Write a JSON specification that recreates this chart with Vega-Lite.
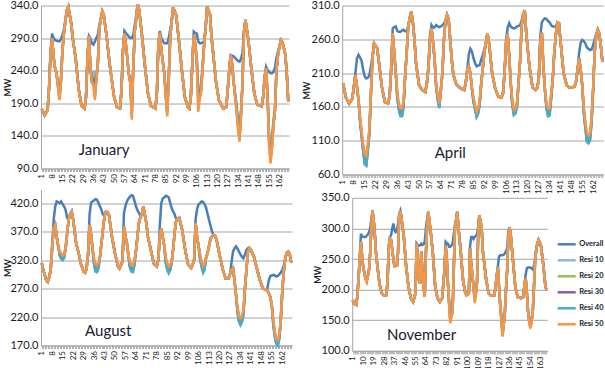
{
"$schema":"https://vega.github.io/schema/vega-lite/v6.json",
"background":"white",
"padding":{"left":3,"top":-1.5,"right":0,"bottom":0},
"autosize":{"type":"pad"},
"config":{
 "view":{"stroke":null},
 "font":"Lato",
 "axis":{"labelFont":"Lato","titleFont":"Lato","labelColor":"#1a1a1a","titleColor":"#1a1a1a","domainColor":"#a6a6a6","gridColor":"#a6a6a6","tickColor":"#b0b0b0","labelOverlap":false}
},
"datasets":{
"lab":[
{"p":"J","h":26,"v":111,"t":"January"},
{"p":"A","h":60,"v":84,"t":"April"},
{"p":"G","h":30,"v":187,"t":"August"},
{"p":"N","h":30.5,"v":117,"t":"November"}
],
"d":[
{"p":"J","h":1,"o":181,"a":181,"b":181,"c":181,"d":181,"e":181},
{"p":"J","h":3,"o":172,"a":172,"b":172,"c":172,"d":172,"e":172},
{"p":"J","h":5,"o":180,"a":180,"b":180,"c":180,"d":180,"e":180},
{"p":"J","h":6,"o":215,"a":215,"b":215,"c":215,"d":215,"e":215},
{"p":"J","h":7,"o":268,"a":268,"b":268,"c":268,"d":268,"e":268},
{"p":"J","h":8,"o":297,"a":290,"b":290,"c":290,"d":290,"e":290},
{"p":"J","h":9,"o":290,"a":262,"b":262,"c":262,"d":262,"e":262},
{"p":"J","h":10,"o":287,"a":244,"b":244,"c":244,"d":244,"e":244},
{"p":"J","h":11,"o":286,"a":236,"b":236,"c":236,"d":236,"e":236},
{"p":"J","h":13,"o":285,"a":205,"b":202,"c":199,"d":197,"e":195},
{"p":"J","h":14,"o":288,"a":228,"b":226,"c":224,"d":222,"e":220},
{"p":"J","h":15,"o":295,"a":270,"b":270,"c":270,"d":270,"e":270},
{"p":"J","h":16,"o":303,"a":297,"b":297,"c":297,"d":297,"e":297},
{"p":"J","h":18,"o":333,"a":333,"b":333,"c":333,"d":333,"e":333},
{"p":"J","h":19,"o":338,"a":338,"b":338,"c":338,"d":338,"e":338},
{"p":"J","h":21,"o":312,"a":312,"b":312,"c":312,"d":312,"e":312},
{"p":"J","h":22,"o":290,"a":290,"b":290,"c":290,"d":290,"e":290},
{"p":"J","h":24,"o":259,"a":259,"b":259,"c":259,"d":259,"e":259},
{"p":"J","h":26,"o":212,"a":212,"b":212,"c":212,"d":212,"e":212},
{"p":"J","h":28,"o":186,"a":186,"b":186,"c":186,"d":186,"e":186},
{"p":"J","h":30,"o":182,"a":182,"b":182,"c":182,"d":182,"e":182},
{"p":"J","h":31,"o":200,"a":200,"b":200,"c":200,"d":200,"e":200},
{"p":"J","h":32,"o":260,"a":260,"b":260,"c":260,"d":260,"e":260},
{"p":"J","h":33,"o":293,"a":293,"b":293,"c":293,"d":293,"e":293},
{"p":"J","h":34,"o":289,"a":244,"b":244,"c":244,"d":244,"e":244},
{"p":"J","h":35,"o":282,"a":223,"b":223,"c":223,"d":223,"e":223},
{"p":"J","h":36,"o":280,"a":240,"b":232,"c":226,"d":221,"e":218},
{"p":"J","h":37,"o":285,"a":215,"b":208,"c":203,"d":199,"e":195},
{"p":"J","h":38,"o":290,"a":235,"b":232,"c":229,"d":227,"e":225},
{"p":"J","h":39,"o":295,"a":250,"b":250,"c":250,"d":250,"e":250},
{"p":"J","h":40,"o":310,"a":305,"b":305,"c":305,"d":305,"e":305},
{"p":"J","h":42,"o":331,"a":331,"b":331,"c":331,"d":331,"e":331},
{"p":"J","h":43,"o":326,"a":326,"b":326,"c":326,"d":326,"e":326},
{"p":"J","h":45,"o":292,"a":292,"b":292,"c":292,"d":292,"e":292},
{"p":"J","h":47,"o":250,"a":250,"b":250,"c":250,"d":250,"e":250},
{"p":"J","h":50,"o":200,"a":200,"b":200,"c":200,"d":200,"e":200},
{"p":"J","h":52,"o":184,"a":184,"b":184,"c":184,"d":184,"e":184},
{"p":"J","h":54,"o":182,"a":182,"b":182,"c":182,"d":182,"e":182},
{"p":"J","h":55,"o":208,"a":208,"b":208,"c":208,"d":208,"e":208},
{"p":"J","h":56,"o":270,"a":270,"b":270,"c":270,"d":270,"e":270},
{"p":"J","h":57,"o":301,"a":297,"b":297,"c":297,"d":297,"e":297},
{"p":"J","h":58,"o":298,"a":280,"b":280,"c":280,"d":280,"e":280},
{"p":"J","h":59,"o":295,"a":259,"b":259,"c":259,"d":259,"e":259},
{"p":"J","h":60,"o":292,"a":235,"b":235,"c":235,"d":235,"e":235},
{"p":"J","h":61,"o":290,"a":226,"b":224,"c":222,"d":221,"e":220},
{"p":"J","h":62,"o":290,"a":185,"b":180,"c":175,"d":170,"e":165},
{"p":"J","h":63,"o":295,"a":244,"b":244,"c":244,"d":244,"e":244},
{"p":"J","h":64,"o":310,"a":300,"b":300,"c":300,"d":300,"e":300},
{"p":"J","h":65,"o":325,"a":320,"b":320,"c":320,"d":320,"e":320},
{"p":"J","h":66,"o":342,"a":342,"b":342,"c":342,"d":342,"e":342},
{"p":"J","h":67,"o":333,"a":333,"b":333,"c":333,"d":333,"e":333},
{"p":"J","h":69,"o":292,"a":292,"b":292,"c":292,"d":292,"e":292},
{"p":"J","h":71,"o":245,"a":245,"b":245,"c":245,"d":245,"e":245},
{"p":"J","h":73,"o":205,"a":205,"b":205,"c":205,"d":205,"e":205},
{"p":"J","h":75,"o":186,"a":186,"b":186,"c":186,"d":186,"e":186},
{"p":"J","h":78,"o":182,"a":182,"b":182,"c":182,"d":182,"e":182},
{"p":"J","h":79,"o":205,"a":205,"b":205,"c":205,"d":205,"e":205},
{"p":"J","h":80,"o":280,"a":280,"b":280,"c":280,"d":280,"e":280},
{"p":"J","h":81,"o":301,"a":298,"b":298,"c":298,"d":298,"e":298},
{"p":"J","h":82,"o":290,"a":272,"b":272,"c":272,"d":272,"e":272},
{"p":"J","h":84,"o":282,"a":236,"b":236,"c":236,"d":236,"e":236},
{"p":"J","h":85,"o":282,"a":210,"b":207,"c":204,"d":202,"e":200},
{"p":"J","h":86,"o":282,"a":190,"b":184,"c":178,"d":174,"e":170},
{"p":"J","h":87,"o":290,"a":228,"b":226,"c":225,"d":224,"e":223},
{"p":"J","h":88,"o":303,"a":290,"b":290,"c":290,"d":290,"e":290},
{"p":"J","h":89,"o":315,"a":315,"b":315,"c":315,"d":315,"e":315},
{"p":"J","h":90,"o":337,"a":337,"b":337,"c":337,"d":337,"e":337},
{"p":"J","h":92,"o":326,"a":326,"b":326,"c":326,"d":326,"e":326},
{"p":"J","h":94,"o":285,"a":285,"b":285,"c":285,"d":285,"e":285},
{"p":"J","h":96,"o":239,"a":239,"b":239,"c":239,"d":239,"e":239},
{"p":"J","h":98,"o":199,"a":199,"b":199,"c":199,"d":199,"e":199},
{"p":"J","h":100,"o":184,"a":184,"b":184,"c":184,"d":184,"e":184},
{"p":"J","h":101,"o":182,"a":182,"b":182,"c":182,"d":182,"e":182},
{"p":"J","h":102,"o":200,"a":200,"b":200,"c":200,"d":200,"e":200},
{"p":"J","h":103,"o":250,"a":250,"b":250,"c":250,"d":250,"e":250},
{"p":"J","h":104,"o":300,"a":295,"b":295,"c":295,"d":295,"e":295},
{"p":"J","h":105,"o":298,"a":280,"b":280,"c":280,"d":280,"e":280},
{"p":"J","h":106,"o":297,"a":262,"b":259,"c":257,"d":255,"e":254},
{"p":"J","h":107,"o":285,"a":216,"b":210,"c":203,"d":193,"e":177},
{"p":"J","h":108,"o":282,"a":215,"b":210,"c":205,"d":200,"e":195},
{"p":"J","h":109,"o":282,"a":220,"b":216,"c":213,"d":210,"e":208},
{"p":"J","h":111,"o":285,"a":280,"b":280,"c":280,"d":280,"e":280},
{"p":"J","h":112,"o":305,"a":305,"b":305,"c":305,"d":305,"e":305},
{"p":"J","h":113,"o":338,"a":338,"b":338,"c":338,"d":338,"e":338},
{"p":"J","h":115,"o":326,"a":326,"b":326,"c":326,"d":326,"e":326},
{"p":"J","h":116,"o":292,"a":292,"b":292,"c":292,"d":292,"e":292},
{"p":"J","h":119,"o":224,"a":224,"b":224,"c":224,"d":224,"e":224},
{"p":"J","h":121,"o":195,"a":195,"b":195,"c":195,"d":195,"e":195},
{"p":"J","h":124,"o":182,"a":182,"b":182,"c":182,"d":182,"e":182},
{"p":"J","h":126,"o":184,"a":184,"b":184,"c":184,"d":184,"e":184},
{"p":"J","h":127,"o":210,"a":210,"b":210,"c":210,"d":210,"e":210},
{"p":"J","h":128,"o":240,"a":240,"b":240,"c":240,"d":240,"e":240},
{"p":"J","h":129,"o":264,"a":264,"b":264,"c":264,"d":264,"e":264},
{"p":"J","h":130,"o":263,"a":250,"b":250,"c":250,"d":250,"e":250},
{"p":"J","h":131,"o":262,"a":223,"b":223,"c":223,"d":223,"e":223},
{"p":"J","h":133,"o":257,"a":188,"b":185,"c":182,"d":179,"e":177},
{"p":"J","h":134,"o":255,"a":165,"b":160,"c":156,"d":153,"e":150},
{"p":"J","h":135,"o":254,"a":150,"b":145,"c":140,"d":135,"e":131},
{"p":"J","h":136,"o":258,"a":180,"b":177,"c":174,"d":172,"e":170},
{"p":"J","h":137,"o":268,"a":220,"b":220,"c":220,"d":220,"e":220},
{"p":"J","h":138,"o":300,"a":300,"b":300,"c":300,"d":300,"e":300},
{"p":"J","h":139,"o":318,"a":318,"b":318,"c":318,"d":318,"e":318},
{"p":"J","h":141,"o":287,"a":287,"b":287,"c":287,"d":287,"e":287},
{"p":"J","h":143,"o":243,"a":243,"b":243,"c":243,"d":243,"e":243},
{"p":"J","h":145,"o":205,"a":205,"b":205,"c":205,"d":205,"e":205},
{"p":"J","h":147,"o":188,"a":188,"b":188,"c":188,"d":188,"e":188},
{"p":"J","h":150,"o":185,"a":185,"b":185,"c":185,"d":185,"e":185},
{"p":"J","h":151,"o":200,"a":200,"b":200,"c":200,"d":200,"e":200},
{"p":"J","h":152,"o":230,"a":230,"b":230,"c":230,"d":230,"e":230},
{"p":"J","h":153,"o":246,"a":244,"b":244,"c":244,"d":244,"e":244},
{"p":"J","h":154,"o":241,"a":200,"b":200,"c":200,"d":200,"e":200},
{"p":"J","h":155,"o":238,"a":145,"b":140,"c":134,"d":129,"e":125},
{"p":"J","h":156,"o":236,"a":130,"b":122,"c":112,"d":105,"e":98},
{"p":"J","h":157,"o":236,"a":140,"b":135,"c":128,"d":123,"e":120},
{"p":"J","h":158,"o":238,"a":165,"b":162,"c":159,"d":157,"e":155},
{"p":"J","h":159,"o":245,"a":180,"b":180,"c":180,"d":180,"e":180},
{"p":"J","h":160,"o":260,"a":240,"b":240,"c":240,"d":240,"e":240},
{"p":"J","h":161,"o":269,"a":264,"b":264,"c":264,"d":264,"e":264},
{"p":"J","h":163,"o":287,"a":287,"b":287,"c":287,"d":287,"e":287},
{"p":"J","h":164,"o":284,"a":284,"b":284,"c":284,"d":284,"e":284},
{"p":"J","h":166,"o":265,"a":265,"b":265,"c":265,"d":265,"e":265},
{"p":"J","h":167,"o":235,"a":235,"b":235,"c":235,"d":235,"e":235},
{"p":"J","h":168,"o":193,"a":193,"b":193,"c":193,"d":193,"e":193},

{"p":"A","h":1,"o":195,"a":195,"b":195,"c":195,"d":195,"e":195},
{"p":"A","h":3,"o":173,"a":173,"b":173,"c":173,"d":173,"e":173},
{"p":"A","h":5,"o":165,"a":165,"b":165,"c":165,"d":165,"e":165},
{"p":"A","h":7,"o":172,"a":172,"b":172,"c":172,"d":172,"e":172},
{"p":"A","h":8,"o":190,"a":190,"b":190,"c":190,"d":190,"e":190},
{"p":"A","h":9,"o":210,"a":207,"b":207,"c":207,"d":207,"e":207},
{"p":"A","h":10,"o":232,"a":190,"b":190,"c":190,"d":190,"e":190},
{"p":"A","h":11,"o":237,"a":170,"b":170,"c":170,"d":170,"e":170},
{"p":"A","h":12,"o":233,"a":143,"b":141,"c":139,"d":138,"e":145},
{"p":"A","h":13,"o":228,"a":122,"b":120,"c":117,"d":116,"e":125},
{"p":"A","h":14,"o":215,"a":101,"b":99,"c":96,"d":95,"e":105},
{"p":"A","h":15,"o":205,"a":84,"b":80,"c":76,"d":75,"e":91},
{"p":"A","h":16,"o":202,"a":82,"b":78,"c":74,"d":73,"e":88},
{"p":"A","h":17,"o":203,"a":102,"b":100,"c":96,"d":95,"e":105},
{"p":"A","h":18,"o":207,"a":126,"b":124,"c":122,"d":121,"e":128},
{"p":"A","h":19,"o":220,"a":180,"b":180,"c":180,"d":180,"e":180},
{"p":"A","h":20,"o":235,"a":232,"b":232,"c":232,"d":232,"e":232},
{"p":"A","h":21,"o":254,"a":254,"b":254,"c":254,"d":254,"e":254},
{"p":"A","h":23,"o":247,"a":247,"b":247,"c":247,"d":247,"e":247},
{"p":"A","h":25,"o":210,"a":210,"b":210,"c":210,"d":210,"e":210},
{"p":"A","h":26,"o":190,"a":190,"b":190,"c":190,"d":190,"e":190},
{"p":"A","h":28,"o":167,"a":167,"b":167,"c":167,"d":167,"e":167},
{"p":"A","h":30,"o":165,"a":165,"b":165,"c":165,"d":165,"e":165},
{"p":"A","h":31,"o":175,"a":175,"b":175,"c":175,"d":175,"e":175},
{"p":"A","h":32,"o":215,"a":215,"b":215,"c":215,"d":215,"e":215},
{"p":"A","h":33,"o":276,"a":269,"b":269,"c":269,"d":269,"e":269},
{"p":"A","h":34,"o":278,"a":240,"b":240,"c":240,"d":240,"e":240},
{"p":"A","h":35,"o":279,"a":210,"b":210,"c":210,"d":210,"e":210},
{"p":"A","h":36,"o":272,"a":177,"b":175,"c":173,"d":172,"e":180},
{"p":"A","h":37,"o":271,"a":161,"b":159,"c":156,"d":155,"e":165},
{"p":"A","h":38,"o":271,"a":154,"b":151,"c":147,"d":146,"e":158},
{"p":"A","h":39,"o":273,"a":154,"b":151,"c":147,"d":146,"e":158},
{"p":"A","h":40,"o":274,"a":166,"b":164,"c":161,"d":160,"e":170},
{"p":"A","h":41,"o":272,"a":205,"b":205,"c":205,"d":205,"e":205},
{"p":"A","h":42,"o":272,"a":240,"b":240,"c":240,"d":240,"e":240},
{"p":"A","h":43,"o":279,"a":279,"b":279,"c":279,"d":279,"e":279},
{"p":"A","h":44,"o":292,"a":292,"b":292,"c":292,"d":292,"e":292},
{"p":"A","h":45,"o":301,"a":301,"b":301,"c":301,"d":301,"e":301},
{"p":"A","h":46,"o":285,"a":285,"b":285,"c":285,"d":285,"e":285},
{"p":"A","h":47,"o":260,"a":260,"b":260,"c":260,"d":260,"e":260},
{"p":"A","h":48,"o":225,"a":225,"b":225,"c":225,"d":225,"e":225},
{"p":"A","h":50,"o":192,"a":192,"b":192,"c":192,"d":192,"e":192},
{"p":"A","h":52,"o":185,"a":185,"b":185,"c":185,"d":185,"e":185},
{"p":"A","h":54,"o":182,"a":182,"b":182,"c":182,"d":182,"e":182},
{"p":"A","h":55,"o":195,"a":195,"b":195,"c":195,"d":195,"e":195},
{"p":"A","h":56,"o":220,"a":217,"b":217,"c":217,"d":217,"e":217},
{"p":"A","h":57,"o":265,"a":260,"b":260,"c":260,"d":260,"e":260},
{"p":"A","h":58,"o":281,"a":276,"b":276,"c":276,"d":276,"e":276},
{"p":"A","h":59,"o":277,"a":255,"b":255,"c":255,"d":255,"e":255},
{"p":"A","h":60,"o":278,"a":230,"b":230,"c":230,"d":230,"e":230},
{"p":"A","h":61,"o":281,"a":190,"b":190,"c":190,"d":190,"e":190},
{"p":"A","h":62,"o":279,"a":175,"b":173,"c":171,"d":170,"e":178},
{"p":"A","h":63,"o":278,"a":163,"b":161,"c":159,"d":158,"e":165},
{"p":"A","h":64,"o":279,"a":185,"b":185,"c":185,"d":185,"e":185},
{"p":"A","h":65,"o":281,"a":210,"b":210,"c":210,"d":210,"e":210},
{"p":"A","h":66,"o":283,"a":260,"b":260,"c":260,"d":260,"e":260},
{"p":"A","h":67,"o":288,"a":288,"b":288,"c":288,"d":288,"e":288},
{"p":"A","h":68,"o":296,"a":296,"b":296,"c":296,"d":296,"e":296},
{"p":"A","h":69,"o":290,"a":290,"b":290,"c":290,"d":290,"e":290},
{"p":"A","h":70,"o":260,"a":260,"b":260,"c":260,"d":260,"e":260},
{"p":"A","h":71,"o":230,"a":230,"b":230,"c":230,"d":230,"e":230},
{"p":"A","h":72,"o":208,"a":208,"b":208,"c":208,"d":208,"e":208},
{"p":"A","h":74,"o":193,"a":193,"b":193,"c":193,"d":193,"e":193},
{"p":"A","h":77,"o":187,"a":187,"b":187,"c":187,"d":187,"e":187},
{"p":"A","h":79,"o":185,"a":185,"b":185,"c":185,"d":185,"e":185},
{"p":"A","h":80,"o":195,"a":195,"b":195,"c":195,"d":195,"e":195},
{"p":"A","h":81,"o":215,"a":215,"b":215,"c":215,"d":215,"e":215},
{"p":"A","h":82,"o":238,"a":220,"b":220,"c":220,"d":220,"e":220},
{"p":"A","h":83,"o":246,"a":210,"b":210,"c":210,"d":210,"e":210},
{"p":"A","h":84,"o":242,"a":187,"b":187,"c":187,"d":187,"e":187},
{"p":"A","h":85,"o":232,"a":172,"b":170,"c":168,"d":167,"e":175},
{"p":"A","h":86,"o":225,"a":161,"b":159,"c":157,"d":156,"e":163},
{"p":"A","h":87,"o":220,"a":151,"b":149,"c":146,"d":145,"e":153},
{"p":"A","h":88,"o":221,"a":156,"b":154,"c":151,"d":150,"e":158},
{"p":"A","h":89,"o":222,"a":168,"b":166,"c":164,"d":163,"e":170},
{"p":"A","h":90,"o":230,"a":195,"b":195,"c":195,"d":195,"e":195},
{"p":"A","h":91,"o":237,"a":217,"b":217,"c":217,"d":217,"e":217},
{"p":"A","h":92,"o":245,"a":240,"b":240,"c":240,"d":240,"e":240},
{"p":"A","h":93,"o":255,"a":255,"b":255,"c":255,"d":255,"e":255},
{"p":"A","h":94,"o":269,"a":269,"b":269,"c":269,"d":269,"e":269},
{"p":"A","h":95,"o":255,"a":255,"b":255,"c":255,"d":255,"e":255},
{"p":"A","h":97,"o":210,"a":210,"b":210,"c":210,"d":210,"e":210},
{"p":"A","h":99,"o":187,"a":187,"b":187,"c":187,"d":187,"e":187},
{"p":"A","h":101,"o":175,"a":175,"b":175,"c":175,"d":175,"e":175},
{"p":"A","h":103,"o":174,"a":174,"b":174,"c":174,"d":174,"e":174},
{"p":"A","h":104,"o":180,"a":180,"b":180,"c":180,"d":180,"e":180},
{"p":"A","h":105,"o":210,"a":210,"b":210,"c":210,"d":210,"e":210},
{"p":"A","h":106,"o":260,"a":255,"b":255,"c":255,"d":255,"e":255},
{"p":"A","h":107,"o":277,"a":268,"b":268,"c":268,"d":268,"e":268},
{"p":"A","h":108,"o":284,"a":235,"b":235,"c":235,"d":235,"e":235},
{"p":"A","h":109,"o":279,"a":195,"b":195,"c":195,"d":195,"e":195},
{"p":"A","h":110,"o":277,"a":167,"b":165,"c":163,"d":162,"e":170},
{"p":"A","h":111,"o":276,"a":154,"b":152,"c":149,"d":148,"e":156},
{"p":"A","h":112,"o":277,"a":156,"b":154,"c":151,"d":150,"e":158},
{"p":"A","h":113,"o":279,"a":165,"b":163,"c":161,"d":160,"e":167},
{"p":"A","h":114,"o":280,"a":195,"b":195,"c":195,"d":195,"e":195},
{"p":"A","h":115,"o":281,"a":228,"b":228,"c":228,"d":228,"e":228},
{"p":"A","h":116,"o":288,"a":280,"b":280,"c":280,"d":280,"e":280},
{"p":"A","h":117,"o":297,"a":297,"b":297,"c":297,"d":297,"e":297},
{"p":"A","h":118,"o":303,"a":303,"b":303,"c":303,"d":303,"e":303},
{"p":"A","h":119,"o":268,"a":268,"b":268,"c":268,"d":268,"e":268},
{"p":"A","h":121,"o":220,"a":220,"b":220,"c":220,"d":220,"e":220},
{"p":"A","h":123,"o":189,"a":189,"b":189,"c":189,"d":189,"e":189},
{"p":"A","h":125,"o":185,"a":185,"b":185,"c":185,"d":185,"e":185},
{"p":"A","h":126,"o":188,"a":188,"b":188,"c":188,"d":188,"e":188},
{"p":"A","h":127,"o":200,"a":200,"b":200,"c":200,"d":200,"e":200},
{"p":"A","h":128,"o":265,"a":255,"b":255,"c":255,"d":255,"e":255},
{"p":"A","h":129,"o":285,"a":270,"b":270,"c":270,"d":270,"e":270},
{"p":"A","h":130,"o":289,"a":220,"b":220,"c":220,"d":220,"e":220},
{"p":"A","h":131,"o":291,"a":185,"b":185,"c":185,"d":185,"e":185},
{"p":"A","h":132,"o":290,"a":163,"b":161,"c":158,"d":157,"e":165},
{"p":"A","h":133,"o":287,"a":154,"b":151,"c":147,"d":146,"e":158},
{"p":"A","h":134,"o":285,"a":155,"b":152,"c":148,"d":147,"e":158},
{"p":"A","h":135,"o":281,"a":177,"b":175,"c":173,"d":172,"e":180},
{"p":"A","h":136,"o":279,"a":200,"b":200,"c":200,"d":200,"e":200},
{"p":"A","h":137,"o":279,"a":240,"b":240,"c":240,"d":240,"e":240},
{"p":"A","h":138,"o":279,"a":266,"b":266,"c":266,"d":266,"e":266},
{"p":"A","h":139,"o":285,"a":285,"b":285,"c":285,"d":285,"e":285},
{"p":"A","h":140,"o":284,"a":284,"b":284,"c":284,"d":284,"e":284},
{"p":"A","h":141,"o":258,"a":258,"b":258,"c":258,"d":258,"e":258},
{"p":"A","h":143,"o":210,"a":210,"b":210,"c":210,"d":210,"e":210},
{"p":"A","h":145,"o":192,"a":192,"b":192,"c":192,"d":192,"e":192},
{"p":"A","h":147,"o":188,"a":188,"b":188,"c":188,"d":188,"e":188},
{"p":"A","h":150,"o":190,"a":190,"b":190,"c":190,"d":190,"e":190},
{"p":"A","h":151,"o":197,"a":197,"b":197,"c":197,"d":197,"e":197},
{"p":"A","h":152,"o":215,"a":215,"b":215,"c":215,"d":215,"e":215},
{"p":"A","h":153,"o":240,"a":232,"b":232,"c":232,"d":232,"e":232},
{"p":"A","h":154,"o":255,"a":215,"b":215,"c":215,"d":215,"e":215},
{"p":"A","h":155,"o":259,"a":192,"b":192,"c":192,"d":192,"e":192},
{"p":"A","h":156,"o":257,"a":157,"b":155,"c":152,"d":151,"e":160},
{"p":"A","h":157,"o":254,"a":135,"b":133,"c":130,"d":128,"e":138},
{"p":"A","h":158,"o":248,"a":118,"b":115,"c":110,"d":108,"e":122},
{"p":"A","h":159,"o":246,"a":115,"b":112,"c":108,"d":106,"e":118},
{"p":"A","h":160,"o":244,"a":118,"b":116,"c":112,"d":110,"e":121},
{"p":"A","h":161,"o":245,"a":142,"b":140,"c":137,"d":136,"e":145},
{"p":"A","h":162,"o":251,"a":185,"b":185,"c":185,"d":185,"e":185},
{"p":"A","h":163,"o":260,"a":240,"b":240,"c":240,"d":240,"e":240},
{"p":"A","h":164,"o":268,"a":265,"b":265,"c":265,"d":265,"e":265},
{"p":"A","h":165,"o":274,"a":274,"b":274,"c":274,"d":274,"e":274},
{"p":"A","h":166,"o":268,"a":268,"b":268,"c":268,"d":268,"e":268},
{"p":"A","h":167,"o":250,"a":250,"b":250,"c":250,"d":250,"e":250},
{"p":"A","h":168,"o":227,"a":227,"b":227,"c":227,"d":227,"e":227},

{"p":"G","h":1,"o":315,"a":315,"b":315,"c":315,"d":315,"e":315},
{"p":"G","h":2,"o":303,"a":303,"b":303,"c":303,"d":303,"e":303},
{"p":"G","h":4,"o":285,"a":285,"b":285,"c":285,"d":285,"e":285},
{"p":"G","h":5,"o":282,"a":282,"b":282,"c":282,"d":282,"e":282},
{"p":"G","h":6,"o":290,"a":290,"b":290,"c":290,"d":290,"e":290},
{"p":"G","h":7,"o":303,"a":303,"b":303,"c":303,"d":303,"e":303},
{"p":"G","h":8,"o":344,"a":344,"b":344,"c":344,"d":344,"e":344},
{"p":"G","h":9,"o":391,"a":376,"b":376,"c":376,"d":376,"e":376},
{"p":"G","h":10,"o":414,"a":382,"b":382,"c":382,"d":382,"e":382},
{"p":"G","h":11,"o":423,"a":361,"b":361,"c":361,"d":361,"e":361},
{"p":"G","h":12,"o":422,"a":345,"b":345,"c":345,"d":345,"e":345},
{"p":"G","h":13,"o":420,"a":334,"b":333,"c":329,"d":328,"e":335},
{"p":"G","h":14,"o":423,"a":330,"b":328,"c":324,"d":322,"e":332},
{"p":"G","h":15,"o":418,"a":326,"b":324,"c":321,"d":320,"e":328},
{"p":"G","h":16,"o":414,"a":329,"b":328,"c":325,"d":324,"e":330},
{"p":"G","h":17,"o":408,"a":341,"b":341,"c":341,"d":341,"e":341},
{"p":"G","h":18,"o":394,"a":367,"b":367,"c":367,"d":367,"e":367},
{"p":"G","h":19,"o":392,"a":391,"b":391,"c":391,"d":391,"e":391},
{"p":"G","h":20,"o":400,"a":400,"b":400,"c":400,"d":400,"e":400},
{"p":"G","h":21,"o":405,"a":405,"b":405,"c":405,"d":405,"e":405},
{"p":"G","h":22,"o":392,"a":392,"b":392,"c":392,"d":392,"e":392},
{"p":"G","h":24,"o":350,"a":350,"b":350,"c":350,"d":350,"e":350},
{"p":"G","h":26,"o":329,"a":329,"b":329,"c":329,"d":329,"e":329},
{"p":"G","h":27,"o":315,"a":315,"b":315,"c":315,"d":315,"e":315},
{"p":"G","h":29,"o":300,"a":300,"b":300,"c":300,"d":300,"e":300},
{"p":"G","h":30,"o":298,"a":298,"b":298,"c":298,"d":298,"e":298},
{"p":"G","h":31,"o":305,"a":305,"b":305,"c":305,"d":305,"e":305},
{"p":"G","h":32,"o":330,"a":330,"b":330,"c":330,"d":330,"e":330},
{"p":"G","h":33,"o":400,"a":382,"b":382,"c":382,"d":382,"e":382},
{"p":"G","h":34,"o":421,"a":365,"b":365,"c":365,"d":365,"e":365},
{"p":"G","h":35,"o":423,"a":340,"b":340,"c":340,"d":340,"e":340},
{"p":"G","h":36,"o":425,"a":320,"b":318,"c":314,"d":313,"e":323},
{"p":"G","h":37,"o":427,"a":310,"b":307,"c":301,"d":300,"e":313},
{"p":"G","h":38,"o":426,"a":309,"b":306,"c":300,"d":299,"e":312},
{"p":"G","h":39,"o":420,"a":313,"b":311,"c":307,"d":306,"e":315},
{"p":"G","h":40,"o":414,"a":326,"b":326,"c":326,"d":326,"e":326},
{"p":"G","h":41,"o":408,"a":350,"b":350,"c":350,"d":350,"e":350},
{"p":"G","h":42,"o":400,"a":375,"b":375,"c":375,"d":375,"e":375},
{"p":"G","h":43,"o":397,"a":397,"b":397,"c":397,"d":397,"e":397},
{"p":"G","h":44,"o":405,"a":405,"b":405,"c":405,"d":405,"e":405},
{"p":"G","h":45,"o":404,"a":404,"b":404,"c":404,"d":404,"e":404},
{"p":"G","h":46,"o":399,"a":399,"b":399,"c":399,"d":399,"e":399},
{"p":"G","h":48,"o":361,"a":361,"b":361,"c":361,"d":361,"e":361},
{"p":"G","h":50,"o":332,"a":332,"b":332,"c":332,"d":332,"e":332},
{"p":"G","h":52,"o":309,"a":309,"b":309,"c":309,"d":309,"e":309},
{"p":"G","h":53,"o":305,"a":305,"b":305,"c":305,"d":305,"e":305},
{"p":"G","h":55,"o":317,"a":317,"b":317,"c":317,"d":317,"e":317},
{"p":"G","h":56,"o":402,"a":379,"b":379,"c":379,"d":379,"e":379},
{"p":"G","h":57,"o":415,"a":362,"b":362,"c":362,"d":362,"e":362},
{"p":"G","h":58,"o":423,"a":350,"b":350,"c":350,"d":350,"e":350},
{"p":"G","h":59,"o":428,"a":328,"b":328,"c":328,"d":328,"e":328},
{"p":"G","h":60,"o":431,"a":315,"b":313,"c":308,"d":307,"e":318},
{"p":"G","h":61,"o":434,"a":309,"b":306,"c":301,"d":300,"e":312},
{"p":"G","h":62,"o":433,"a":308,"b":305,"c":300,"d":299,"e":311},
{"p":"G","h":63,"o":425,"a":318,"b":316,"c":312,"d":311,"e":320},
{"p":"G","h":64,"o":415,"a":335,"b":335,"c":335,"d":335,"e":335},
{"p":"G","h":65,"o":408,"a":360,"b":360,"c":360,"d":360,"e":360},
{"p":"G","h":66,"o":403,"a":385,"b":385,"c":385,"d":385,"e":385},
{"p":"G","h":67,"o":398,"a":395,"b":395,"c":395,"d":395,"e":395},
{"p":"G","h":68,"o":400,"a":400,"b":400,"c":400,"d":400,"e":400},
{"p":"G","h":69,"o":414,"a":414,"b":414,"c":414,"d":414,"e":414},
{"p":"G","h":71,"o":385,"a":385,"b":385,"c":385,"d":385,"e":385},
{"p":"G","h":72,"o":362,"a":362,"b":362,"c":362,"d":362,"e":362},
{"p":"G","h":75,"o":326,"a":326,"b":326,"c":326,"d":326,"e":326},
{"p":"G","h":76,"o":314,"a":314,"b":314,"c":314,"d":314,"e":314},
{"p":"G","h":78,"o":309,"a":309,"b":309,"c":309,"d":309,"e":309},
{"p":"G","h":79,"o":320,"a":320,"b":320,"c":320,"d":320,"e":320},
{"p":"G","h":80,"o":380,"a":360,"b":360,"c":360,"d":360,"e":360},
{"p":"G","h":81,"o":420,"a":376,"b":376,"c":376,"d":376,"e":376},
{"p":"G","h":82,"o":428,"a":360,"b":360,"c":360,"d":360,"e":360},
{"p":"G","h":83,"o":430,"a":345,"b":345,"c":345,"d":345,"e":345},
{"p":"G","h":84,"o":433,"a":322,"b":320,"c":316,"d":315,"e":325},
{"p":"G","h":85,"o":432,"a":312,"b":309,"c":304,"d":303,"e":315},
{"p":"G","h":86,"o":430,"a":306,"b":303,"c":298,"d":297,"e":309},
{"p":"G","h":87,"o":420,"a":310,"b":307,"c":303,"d":302,"e":312},
{"p":"G","h":88,"o":411,"a":317,"b":317,"c":317,"d":317,"e":317},
{"p":"G","h":89,"o":405,"a":340,"b":340,"c":340,"d":340,"e":340},
{"p":"G","h":90,"o":400,"a":370,"b":370,"c":370,"d":370,"e":370},
{"p":"G","h":91,"o":392,"a":390,"b":390,"c":390,"d":390,"e":390},
{"p":"G","h":93,"o":394,"a":394,"b":394,"c":394,"d":394,"e":394},
{"p":"G","h":95,"o":373,"a":373,"b":373,"c":373,"d":373,"e":373},
{"p":"G","h":97,"o":338,"a":338,"b":338,"c":338,"d":338,"e":338},
{"p":"G","h":99,"o":312,"a":312,"b":312,"c":312,"d":312,"e":312},
{"p":"G","h":101,"o":306,"a":306,"b":306,"c":306,"d":306,"e":306},
{"p":"G","h":102,"o":312,"a":312,"b":312,"c":312,"d":312,"e":312},
{"p":"G","h":103,"o":320,"a":320,"b":320,"c":320,"d":320,"e":320},
{"p":"G","h":104,"o":392,"a":385,"b":385,"c":385,"d":385,"e":385},
{"p":"G","h":105,"o":410,"a":360,"b":360,"c":360,"d":360,"e":360},
{"p":"G","h":106,"o":418,"a":344,"b":344,"c":344,"d":344,"e":344},
{"p":"G","h":107,"o":420,"a":328,"b":326,"c":322,"d":321,"e":330},
{"p":"G","h":108,"o":423,"a":315,"b":313,"c":309,"d":308,"e":318},
{"p":"G","h":109,"o":422,"a":307,"b":304,"c":299,"d":298,"e":310},
{"p":"G","h":110,"o":418,"a":311,"b":309,"c":304,"d":303,"e":314},
{"p":"G","h":111,"o":412,"a":325,"b":325,"c":325,"d":325,"e":325},
{"p":"G","h":112,"o":401,"a":332,"b":332,"c":332,"d":332,"e":332},
{"p":"G","h":113,"o":390,"a":345,"b":345,"c":345,"d":345,"e":345},
{"p":"G","h":114,"o":380,"a":358,"b":358,"c":358,"d":358,"e":358},
{"p":"G","h":115,"o":370,"a":362,"b":362,"c":362,"d":362,"e":362},
{"p":"G","h":116,"o":364,"a":364,"b":364,"c":364,"d":364,"e":364},
{"p":"G","h":117,"o":363,"a":363,"b":363,"c":363,"d":363,"e":363},
{"p":"G","h":118,"o":356,"a":356,"b":356,"c":356,"d":356,"e":356},
{"p":"G","h":120,"o":329,"a":329,"b":329,"c":329,"d":329,"e":329},
{"p":"G","h":121,"o":318,"a":318,"b":318,"c":318,"d":318,"e":318},
{"p":"G","h":122,"o":305,"a":305,"b":305,"c":305,"d":305,"e":305},
{"p":"G","h":124,"o":288,"a":288,"b":288,"c":288,"d":288,"e":288},
{"p":"G","h":126,"o":288,"a":288,"b":288,"c":288,"d":288,"e":288},
{"p":"G","h":127,"o":295,"a":295,"b":295,"c":295,"d":295,"e":295},
{"p":"G","h":128,"o":315,"a":303,"b":303,"c":303,"d":303,"e":303},
{"p":"G","h":129,"o":335,"a":306,"b":306,"c":306,"d":306,"e":306},
{"p":"G","h":130,"o":341,"a":285,"b":285,"c":285,"d":285,"e":285},
{"p":"G","h":131,"o":344,"a":260,"b":260,"c":260,"d":260,"e":260},
{"p":"G","h":132,"o":340,"a":235,"b":233,"c":230,"d":229,"e":238},
{"p":"G","h":133,"o":335,"a":220,"b":217,"c":213,"d":212,"e":224},
{"p":"G","h":134,"o":330,"a":214,"b":211,"c":207,"d":206,"e":218},
{"p":"G","h":135,"o":326,"a":219,"b":216,"c":212,"d":211,"e":222},
{"p":"G","h":136,"o":323,"a":230,"b":228,"c":225,"d":224,"e":233},
{"p":"G","h":137,"o":330,"a":270,"b":270,"c":270,"d":270,"e":270},
{"p":"G","h":138,"o":338,"a":303,"b":303,"c":303,"d":303,"e":303},
{"p":"G","h":139,"o":341,"a":335,"b":335,"c":335,"d":335,"e":335},
{"p":"G","h":140,"o":341,"a":341,"b":341,"c":341,"d":341,"e":341},
{"p":"G","h":141,"o":338,"a":338,"b":338,"c":338,"d":338,"e":338},
{"p":"G","h":143,"o":326,"a":326,"b":326,"c":326,"d":326,"e":326},
{"p":"G","h":145,"o":305,"a":305,"b":305,"c":305,"d":305,"e":305},
{"p":"G","h":147,"o":285,"a":285,"b":285,"c":285,"d":285,"e":285},
{"p":"G","h":149,"o":270,"a":270,"b":270,"c":270,"d":270,"e":270},
{"p":"G","h":151,"o":268,"a":268,"b":268,"c":268,"d":268,"e":268},
{"p":"G","h":152,"o":270,"a":266,"b":266,"c":266,"d":266,"e":266},
{"p":"G","h":153,"o":285,"a":262,"b":262,"c":262,"d":262,"e":262},
{"p":"G","h":154,"o":292,"a":255,"b":255,"c":255,"d":255,"e":255},
{"p":"G","h":155,"o":293,"a":240,"b":240,"c":240,"d":240,"e":240},
{"p":"G","h":156,"o":294,"a":212,"b":210,"c":207,"d":206,"e":215},
{"p":"G","h":157,"o":293,"a":192,"b":190,"c":186,"d":185,"e":195},
{"p":"G","h":158,"o":291,"a":180,"b":178,"c":174,"d":173,"e":183},
{"p":"G","h":159,"o":292,"a":177,"b":175,"c":171,"d":170,"e":180},
{"p":"G","h":160,"o":295,"a":187,"b":185,"c":182,"d":181,"e":190},
{"p":"G","h":161,"o":298,"a":215,"b":215,"c":215,"d":215,"e":215},
{"p":"G","h":162,"o":303,"a":265,"b":265,"c":265,"d":265,"e":265},
{"p":"G","h":163,"o":310,"a":300,"b":300,"c":300,"d":300,"e":300},
{"p":"G","h":164,"o":323,"a":323,"b":323,"c":323,"d":323,"e":323},
{"p":"G","h":165,"o":333,"a":333,"b":333,"c":333,"d":333,"e":333},
{"p":"G","h":166,"o":335,"a":335,"b":335,"c":335,"d":335,"e":335},
{"p":"G","h":167,"o":330,"a":330,"b":330,"c":330,"d":330,"e":330},
{"p":"G","h":168,"o":316,"a":316,"b":316,"c":316,"d":316,"e":316},

{"p":"N","h":1,"o":183,"a":183,"b":183,"c":183,"d":183,"e":183},
{"p":"N","h":2,"o":177,"a":177,"b":177,"c":177,"d":177,"e":177},
{"p":"N","h":4,"o":175,"a":175,"b":175,"c":175,"d":175,"e":175},
{"p":"N","h":5,"o":190,"a":190,"b":190,"c":190,"d":190,"e":190},
{"p":"N","h":6,"o":220,"a":220,"b":220,"c":220,"d":220,"e":220},
{"p":"N","h":7,"o":250,"a":250,"b":250,"c":250,"d":250,"e":250},
{"p":"N","h":8,"o":291,"a":278,"b":278,"c":278,"d":278,"e":278},
{"p":"N","h":9,"o":287,"a":255,"b":255,"c":255,"d":255,"e":255},
{"p":"N","h":10,"o":286,"a":237,"b":237,"c":237,"d":237,"e":237},
{"p":"N","h":12,"o":286,"a":218,"b":218,"c":218,"d":218,"e":218},
{"p":"N","h":13,"o":288,"a":216,"b":215,"c":214,"d":213,"e":213},
{"p":"N","h":14,"o":290,"a":222,"b":222,"c":222,"d":222,"e":222},
{"p":"N","h":15,"o":294,"a":232,"b":232,"c":232,"d":232,"e":232},
{"p":"N","h":16,"o":300,"a":260,"b":260,"c":260,"d":260,"e":260},
{"p":"N","h":17,"o":315,"a":300,"b":300,"c":300,"d":300,"e":300},
{"p":"N","h":18,"o":329,"a":329,"b":329,"c":329,"d":329,"e":329},
{"p":"N","h":19,"o":313,"a":313,"b":313,"c":313,"d":313,"e":313},
{"p":"N","h":20,"o":290,"a":290,"b":290,"c":290,"d":290,"e":290},
{"p":"N","h":21,"o":260,"a":260,"b":260,"c":260,"d":260,"e":260},
{"p":"N","h":22,"o":242,"a":242,"b":242,"c":242,"d":242,"e":242},
{"p":"N","h":24,"o":210,"a":210,"b":210,"c":210,"d":210,"e":210},
{"p":"N","h":26,"o":194,"a":194,"b":194,"c":194,"d":194,"e":194},
{"p":"N","h":28,"o":190,"a":190,"b":190,"c":190,"d":190,"e":190},
{"p":"N","h":30,"o":191,"a":191,"b":191,"c":191,"d":191,"e":191},
{"p":"N","h":31,"o":215,"a":215,"b":215,"c":215,"d":215,"e":215},
{"p":"N","h":32,"o":270,"a":270,"b":270,"c":270,"d":270,"e":270},
{"p":"N","h":33,"o":286,"a":283,"b":283,"c":283,"d":283,"e":283},
{"p":"N","h":34,"o":289,"a":281,"b":281,"c":281,"d":281,"e":281},
{"p":"N","h":35,"o":300,"a":265,"b":265,"c":265,"d":265,"e":265},
{"p":"N","h":36,"o":308,"a":250,"b":250,"c":250,"d":250,"e":250},
{"p":"N","h":37,"o":297,"a":237,"b":237,"c":237,"d":237,"e":237},
{"p":"N","h":38,"o":294,"a":245,"b":245,"c":245,"d":245,"e":245},
{"p":"N","h":39,"o":296,"a":238,"b":238,"c":238,"d":238,"e":238},
{"p":"N","h":40,"o":308,"a":262,"b":262,"c":262,"d":262,"e":262},
{"p":"N","h":41,"o":324,"a":320,"b":320,"c":320,"d":320,"e":320},
{"p":"N","h":42,"o":329,"a":329,"b":329,"c":329,"d":329,"e":329},
{"p":"N","h":43,"o":316,"a":316,"b":316,"c":316,"d":316,"e":316},
{"p":"N","h":45,"o":286,"a":286,"b":286,"c":286,"d":286,"e":286},
{"p":"N","h":47,"o":237,"a":237,"b":237,"c":237,"d":237,"e":237},
{"p":"N","h":49,"o":205,"a":205,"b":205,"c":205,"d":205,"e":205},
{"p":"N","h":51,"o":186,"a":186,"b":186,"c":186,"d":186,"e":186},
{"p":"N","h":53,"o":180,"a":180,"b":180,"c":180,"d":180,"e":180},
{"p":"N","h":55,"o":194,"a":194,"b":194,"c":194,"d":194,"e":194},
{"p":"N","h":56,"o":275,"a":275,"b":275,"c":275,"d":275,"e":275},
{"p":"N","h":57,"o":272,"a":250,"b":250,"c":250,"d":250,"e":250},
{"p":"N","h":58,"o":272,"a":215,"b":215,"c":215,"d":215,"e":215},
{"p":"N","h":59,"o":272,"a":210,"b":210,"c":210,"d":210,"e":210},
{"p":"N","h":60,"o":275,"a":262,"b":262,"c":262,"d":262,"e":262},
{"p":"N","h":61,"o":273,"a":230,"b":230,"c":230,"d":230,"e":230},
{"p":"N","h":62,"o":274,"a":205,"b":205,"c":205,"d":205,"e":205},
{"p":"N","h":63,"o":278,"a":188,"b":188,"c":188,"d":188,"e":188},
{"p":"N","h":64,"o":300,"a":260,"b":260,"c":260,"d":260,"e":260},
{"p":"N","h":65,"o":315,"a":300,"b":300,"c":300,"d":300,"e":300},
{"p":"N","h":66,"o":327,"a":327,"b":327,"c":327,"d":327,"e":327},
{"p":"N","h":68,"o":297,"a":297,"b":297,"c":297,"d":297,"e":297},
{"p":"N","h":70,"o":259,"a":259,"b":259,"c":259,"d":259,"e":259},
{"p":"N","h":72,"o":205,"a":205,"b":205,"c":205,"d":205,"e":205},
{"p":"N","h":74,"o":186,"a":186,"b":186,"c":186,"d":186,"e":186},
{"p":"N","h":76,"o":180,"a":180,"b":180,"c":180,"d":180,"e":180},
{"p":"N","h":78,"o":186,"a":186,"b":186,"c":186,"d":186,"e":186},
{"p":"N","h":80,"o":232,"a":232,"b":232,"c":232,"d":232,"e":232},
{"p":"N","h":81,"o":278,"a":272,"b":272,"c":272,"d":272,"e":272},
{"p":"N","h":82,"o":276,"a":250,"b":250,"c":250,"d":250,"e":250},
{"p":"N","h":83,"o":275,"a":210,"b":210,"c":210,"d":210,"e":210},
{"p":"N","h":84,"o":270,"a":182,"b":180,"c":178,"d":176,"e":175},
{"p":"N","h":85,"o":270,"a":160,"b":156,"c":152,"d":148,"e":145},
{"p":"N","h":86,"o":272,"a":167,"b":164,"c":161,"d":158,"e":155},
{"p":"N","h":87,"o":275,"a":170,"b":168,"c":165,"d":163,"e":161},
{"p":"N","h":88,"o":291,"a":232,"b":232,"c":232,"d":232,"e":232},
{"p":"N","h":89,"o":305,"a":300,"b":300,"c":300,"d":300,"e":300},
{"p":"N","h":90,"o":313,"a":313,"b":313,"c":313,"d":313,"e":313},
{"p":"N","h":91,"o":327,"a":327,"b":327,"c":327,"d":327,"e":327},
{"p":"N","h":92,"o":302,"a":302,"b":302,"c":302,"d":302,"e":302},
{"p":"N","h":94,"o":262,"a":262,"b":262,"c":262,"d":262,"e":262},
{"p":"N","h":96,"o":215,"a":215,"b":215,"c":215,"d":215,"e":215},
{"p":"N","h":98,"o":194,"a":194,"b":194,"c":194,"d":194,"e":194},
{"p":"N","h":99,"o":191,"a":191,"b":191,"c":191,"d":191,"e":191},
{"p":"N","h":101,"o":194,"a":194,"b":194,"c":194,"d":194,"e":194},
{"p":"N","h":102,"o":270,"a":267,"b":267,"c":267,"d":267,"e":267},
{"p":"N","h":103,"o":286,"a":243,"b":243,"c":243,"d":243,"e":243},
{"p":"N","h":104,"o":286,"a":225,"b":225,"c":225,"d":225,"e":225},
{"p":"N","h":105,"o":283,"a":205,"b":205,"c":205,"d":205,"e":205},
{"p":"N","h":106,"o":286,"a":192,"b":189,"c":185,"d":181,"e":178},
{"p":"N","h":107,"o":288,"a":198,"b":196,"c":194,"d":192,"e":190},
{"p":"N","h":108,"o":289,"a":210,"b":210,"c":210,"d":210,"e":210},
{"p":"N","h":109,"o":302,"a":286,"b":286,"c":286,"d":286,"e":286},
{"p":"N","h":110,"o":321,"a":321,"b":321,"c":321,"d":321,"e":321},
{"p":"N","h":112,"o":302,"a":302,"b":302,"c":302,"d":302,"e":302},
{"p":"N","h":113,"o":264,"a":264,"b":264,"c":264,"d":264,"e":264},
{"p":"N","h":116,"o":215,"a":215,"b":215,"c":215,"d":215,"e":215},
{"p":"N","h":118,"o":194,"a":194,"b":194,"c":194,"d":194,"e":194},
{"p":"N","h":120,"o":190,"a":190,"b":190,"c":190,"d":190,"e":190},
{"p":"N","h":123,"o":191,"a":191,"b":191,"c":191,"d":191,"e":191},
{"p":"N","h":124,"o":205,"a":205,"b":205,"c":205,"d":205,"e":205},
{"p":"N","h":126,"o":237,"a":237,"b":237,"c":237,"d":237,"e":237},
{"p":"N","h":127,"o":254,"a":205,"b":205,"c":205,"d":205,"e":205},
{"p":"N","h":128,"o":256,"a":175,"b":175,"c":175,"d":175,"e":175},
{"p":"N","h":129,"o":256,"a":158,"b":155,"c":153,"d":151,"e":150},
{"p":"N","h":130,"o":256,"a":135,"b":131,"c":128,"d":125,"e":123},
{"p":"N","h":131,"o":257,"a":148,"b":145,"c":143,"d":141,"e":140},
{"p":"N","h":132,"o":259,"a":161,"b":161,"c":161,"d":161,"e":161},
{"p":"N","h":133,"o":263,"a":200,"b":200,"c":200,"d":200,"e":200},
{"p":"N","h":134,"o":267,"a":232,"b":232,"c":232,"d":232,"e":232},
{"p":"N","h":135,"o":295,"a":285,"b":285,"c":285,"d":285,"e":285},
{"p":"N","h":136,"o":302,"a":302,"b":302,"c":302,"d":302,"e":302},
{"p":"N","h":137,"o":291,"a":291,"b":291,"c":291,"d":291,"e":291},
{"p":"N","h":139,"o":248,"a":248,"b":248,"c":248,"d":248,"e":248},
{"p":"N","h":141,"o":205,"a":205,"b":205,"c":205,"d":205,"e":205},
{"p":"N","h":143,"o":188,"a":188,"b":188,"c":188,"d":188,"e":188},
{"p":"N","h":146,"o":186,"a":186,"b":186,"c":186,"d":186,"e":186},
{"p":"N","h":148,"o":188,"a":188,"b":188,"c":188,"d":188,"e":188},
{"p":"N","h":149,"o":210,"a":210,"b":210,"c":210,"d":210,"e":210},
{"p":"N","h":150,"o":225,"a":218,"b":218,"c":218,"d":218,"e":218},
{"p":"N","h":151,"o":235,"a":194,"b":194,"c":194,"d":194,"e":194},
{"p":"N","h":152,"o":236,"a":165,"b":165,"c":165,"d":165,"e":165},
{"p":"N","h":153,"o":236,"a":155,"b":152,"c":149,"d":147,"e":145},
{"p":"N","h":154,"o":236,"a":150,"b":146,"c":142,"d":139,"e":137},
{"p":"N","h":155,"o":235,"a":155,"b":152,"c":149,"d":147,"e":145},
{"p":"N","h":156,"o":233,"a":161,"b":161,"c":161,"d":161,"e":161},
{"p":"N","h":157,"o":238,"a":200,"b":200,"c":200,"d":200,"e":200},
{"p":"N","h":158,"o":250,"a":243,"b":243,"c":243,"d":243,"e":243},
{"p":"N","h":159,"o":265,"a":265,"b":265,"c":265,"d":265,"e":265},
{"p":"N","h":160,"o":275,"a":275,"b":275,"c":275,"d":275,"e":275},
{"p":"N","h":161,"o":281,"a":281,"b":281,"c":281,"d":281,"e":281},
{"p":"N","h":163,"o":273,"a":273,"b":273,"c":273,"d":273,"e":273},
{"p":"N","h":165,"o":243,"a":243,"b":243,"c":243,"d":243,"e":243},
{"p":"N","h":167,"o":205,"a":205,"b":205,"c":205,"d":205,"e":205},
{"p":"N","h":168,"o":199,"a":199,"b":199,"c":199,"d":199,"e":199}
]
},
"spacing":5.2,
"bounds":"full",
"resolve":{"scale":{"color":"independent"},"legend":{"color":"independent"}},
"hconcat":[
{
"spacing":21,
"bounds":"flush",
"resolve":{"scale":{"color":"independent"},"legend":{"color":"independent"}},
"vconcat":[
{
"width":248,"height":163,
"layer":[
{"data":{"name":"d"},
 "transform":[{"filter":"datum.p=='J'"},{"fold":["o","a","b","c","d","e"],"as":["k","v"]}],
 "mark":{"type":"line","strokeWidth":2.5},
 "encoding":{
  "x":{"field":"h","type":"quantitative","scale":{"domain":[0.5,168.5],"nice":false,"zero":false},
       "axis":{"title":null,"tickCount":168,"labelExpr":"(datum.value-1)%7==0?datum.label:''","labelAngle":-90,"labelFontSize":8,"labelOverlap":false,"labelFlush":false,"labelPadding":2,"tickSize":3,"grid":false}},
  "y":{"field":"v","type":"quantitative","scale":{"domain":[90,340],"nice":false,"zero":false},
       "axis":{"title":"MW","values":[90,140,190,240,290,340],"tickCount":12,"format":".1f","grid":true,"ticks":false,"labelOverlap":false,"labelFlush":false,"labelFontSize":11,"labelPadding":3,"titleFontSize":9,"titleFontWeight":"bold","titleX":-29}},
  "color":{"field":"k","type":"nominal","scale":{"domain":["o","a","b","c","d","e"],"range":["#4A7EBB","#95B3D7","#9BBB59","#8064A2","#4BACC6","#F79646"]},"legend":null}
 }},
{"data":{"name":"lab"},
 "transform":[{"filter":"datum.p=='J'"}],
 "mark":{"type":"text","align":"left","baseline":"alphabetic","fontSize":15,"color":"#1a1a33"},
 "encoding":{"x":{"field":"h","type":"quantitative"},"y":{"field":"v","type":"quantitative"},"text":{"field":"t"}}}
]
},
{
"width":251,"height":156,
"layer":[
{"data":{"name":"d"},
 "transform":[{"filter":"datum.p=='G'"},{"fold":["o","a","b","c","d","e"],"as":["k","v"]}],
 "mark":{"type":"line","strokeWidth":2.5},
 "encoding":{
  "x":{"field":"h","type":"quantitative","scale":{"domain":[0.5,168.5],"nice":false,"zero":false},
       "axis":{"title":null,"tickCount":168,"labelExpr":"(datum.value-1)%7==0?datum.label:''","labelAngle":-90,"labelFontSize":8,"labelOverlap":false,"labelFlush":false,"labelPadding":2,"tickSize":3,"grid":false}},
  "y":{"field":"v","type":"quantitative","scale":{"domain":[170,444],"nice":false,"zero":false},
       "axis":{"title":"MW","values":[170,220,270,320,370,420],"tickCount":12,"format":".1f","grid":true,"ticks":false,"labelOverlap":false,"labelFlush":false,"labelFontSize":11,"labelPadding":3,"titleFontSize":9,"titleFontWeight":"bold","titleX":-29}},
  "color":{"field":"k","type":"nominal","scale":{"domain":["o","a","b","c","d","e"],"range":["#4A7EBB","#95B3D7","#9BBB59","#8064A2","#4BACC6","#F79646"]},"legend":null}
 }},
{"data":{"name":"lab"},
 "transform":[{"filter":"datum.p=='G'"}],
 "mark":{"type":"text","align":"left","baseline":"alphabetic","fontSize":15,"color":"#1a1a33"},
 "encoding":{"x":{"field":"h","type":"quantitative"},"y":{"field":"v","type":"quantitative"},"text":{"field":"t"}}}
]
}
]
},
{
"spacing":23.3,
"bounds":"flush",
"resolve":{"scale":{"color":"independent"},"legend":{"color":"independent"}},
"vconcat":[
{
"width":261,"height":169,
"layer":[
{"data":{"name":"d"},
 "transform":[{"filter":"datum.p=='A'"},{"fold":["o","a","b","c","d","e"],"as":["k","v"]}],
 "mark":{"type":"line","strokeWidth":2.5},
 "encoding":{
  "x":{"field":"h","type":"quantitative","scale":{"domain":[0.5,168.5],"nice":false,"zero":false},
       "axis":{"title":null,"tickCount":168,"labelExpr":"(datum.value-1)%7==0?datum.label:''","labelAngle":-90,"labelFontSize":8,"labelOverlap":false,"labelFlush":false,"labelPadding":2,"tickSize":3,"grid":false}},
  "y":{"field":"v","type":"quantitative","scale":{"domain":[60,310],"nice":false,"zero":false},
       "axis":{"title":"MW","values":[60,110,160,210,260,310],"tickCount":12,"format":".1f","grid":true,"ticks":false,"labelOverlap":false,"labelFlush":false,"labelFontSize":11,"labelPadding":3,"titleFontSize":9,"titleFontWeight":"bold","titleX":-31}},
  "color":{"field":"k","type":"nominal","scale":{"domain":["o","a","b","c","d","e"],"range":["#4A7EBB","#95B3D7","#9BBB59","#8064A2","#4BACC6","#F79646"]},"legend":null}
 }},
{"data":{"name":"lab"},
 "transform":[{"filter":"datum.p=='A'"}],
 "mark":{"type":"text","align":"left","baseline":"alphabetic","fontSize":15,"color":"#1a1a33"},
 "encoding":{"x":{"field":"h","type":"quantitative"},"y":{"field":"v","type":"quantitative"},"text":{"field":"t"}}}
]
},
{
"spacing":9,
"bounds":"flush",
"resolve":{"scale":{"color":"independent"},"legend":{"color":"independent"}},
"hconcat":[
{"width":1,"height":1,"data":{"values":[{"z":0}]},"mark":{"type":"point","opacity":0},"encoding":{}},
{
"width":195,"height":153,
"layer":[
{"data":{"name":"d"},
 "transform":[{"filter":"datum.p=='N'"},{"fold":["o","a","b","c","d","e"],"as":["k","v"]}],
 "mark":{"type":"line","strokeWidth":2.5},
 "encoding":{
  "x":{"field":"h","type":"quantitative","scale":{"domain":[0.5,168.5],"nice":false,"zero":false},
       "axis":{"title":null,"tickCount":168,"labelExpr":"(datum.value-1)%9==0?datum.label:''","labelAngle":-90,"labelFontSize":8,"labelOverlap":false,"labelFlush":false,"labelPadding":2,"tickSize":3,"grid":false}},
  "y":{"field":"v","type":"quantitative","scale":{"domain":[100,350],"nice":false,"zero":false},
       "axis":{"title":"MW","values":[100,150,200,250,300,350],"tickCount":12,"format":".1f","grid":true,"ticks":false,"labelOverlap":false,"labelFlush":false,"labelFontSize":11,"labelPadding":3,"titleFontSize":9,"titleFontWeight":"bold","titleX":-30}},
  "color":{"field":"k","type":"nominal","scale":{"domain":["o","a","b","c","d","e"],"range":["#4A7EBB","#95B3D7","#9BBB59","#8064A2","#4BACC6","#F79646"]},
   "legend":{"orient":"none","legendX":204,"legendY":36,"title":null,"symbolType":"stroke","symbolStrokeWidth":2.5,"symbolSize":324,"labelFontSize":7.5,"labelFontWeight":"bold","labelOffset":2,"rowPadding":-3.5,"padding":0,"labelColor":"#1a1a33",
    "labelExpr":"datum.label=='o'?'Overall':datum.label=='a'?'Resi 10':datum.label=='b'?'Resi 20':datum.label=='c'?'Resi 30':datum.label=='d'?'Resi 40':'Resi 50'"}}
 }},
{"data":{"name":"lab"},
 "transform":[{"filter":"datum.p=='N'"}],
 "mark":{"type":"text","align":"left","baseline":"alphabetic","fontSize":15,"color":"#1a1a33"},
 "encoding":{"x":{"field":"h","type":"quantitative"},"y":{"field":"v","type":"quantitative"},"text":{"field":"t"}}}
]
}
]
}
]
}
]
}
